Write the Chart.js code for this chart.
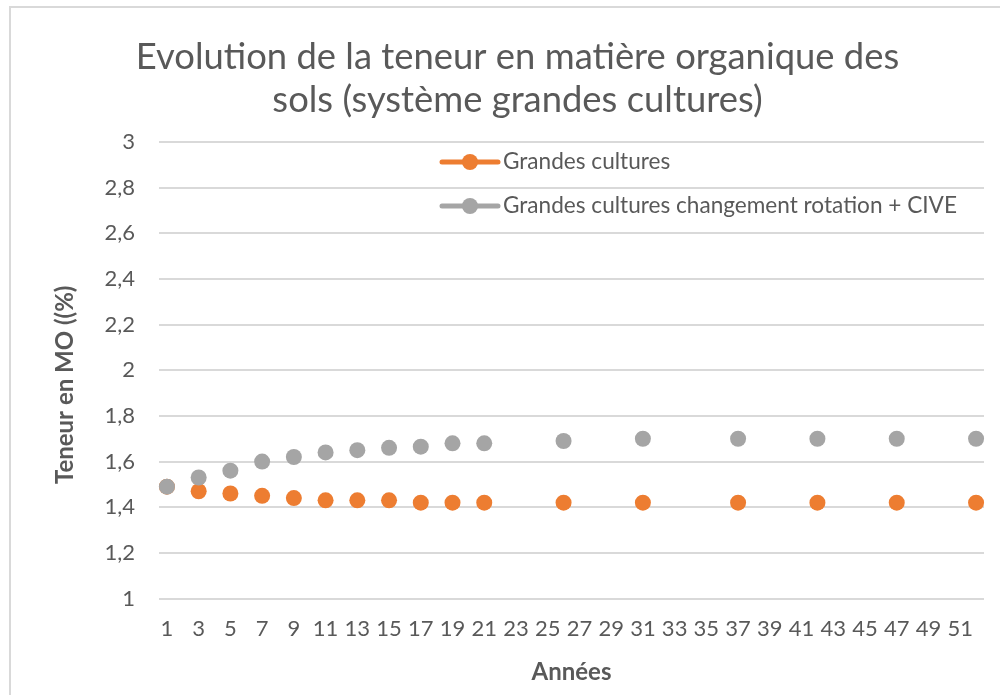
<!DOCTYPE html>
<html>
<head>
<meta charset="utf-8">
<script src="https://cdn.jsdelivr.net/npm/chart.js@4/dist/chart.umd.min.js"></script>
<style>
  html, body { margin: 0; padding: 0; background: #fff; overflow: hidden; }
  #frame { position: absolute; left: 9px; top: 6px; width: 1200px; height: 900px;
           border-left: 2px solid #d9d9d9; border-top: 2px solid #d9d9d9; }
  #wrap { position: absolute; left: 0; top: 0; width: 1000px; height: 695px; }
</style>
</head>
<body>
<div id="frame"></div>
<div id="wrap"><canvas id="c" width="1000" height="695"></canvas></div>
<script>
const categories = Array.from({length: 52}, (_, i) => String(i + 1));
const years = [1, 3, 5, 7, 9, 11, 13, 15, 17, 19, 21, 26, 31, 37, 42, 47, 52];
const grandesCultures = [1.49, 1.47, 1.46, 1.45, 1.44, 1.43, 1.43, 1.43, 1.42, 1.42, 1.42, 1.42, 1.42, 1.42, 1.42, 1.42, 1.42];
const changementRotation = [1.49, 1.53, 1.56, 1.60, 1.62, 1.64, 1.65, 1.66, 1.665, 1.68, 1.68, 1.69, 1.70, 1.70, 1.70, 1.70, 1.70];
const seriesNames = ['Grandes cultures', 'Grandes cultures changement rotation + CIVE'];
const titleLines = ['Evolution de la teneur en matière organique des', 'sols (système grandes cultures)'];

const FONT = 'Lato';
const TXT = '#595959';

const legendPlugin = {
  id: 'insideLegend',
  afterDraw(chart) {
    const ctx = chart.ctx;
    const rows = [162, 206];
    chart.data.datasets.forEach((ds, i) => {
      const y = rows[i];
      ctx.save();
      ctx.strokeStyle = ds.borderColor;
      ctx.lineWidth = 5;
      ctx.lineCap = 'round';
      ctx.beginPath();
      ctx.moveTo(442, y);
      ctx.lineTo(498, y);
      ctx.stroke();
      ctx.fillStyle = ds.backgroundColor;
      ctx.beginPath();
      ctx.arc(470, y, 8, 0, Math.PI * 2);
      ctx.fill();
      ctx.fillStyle = TXT;
      ctx.font = '22.6px ' + FONT;
      ctx.textBaseline = 'middle';
      ctx.textAlign = 'left';
      ctx.fillText(ds.label, 503, y);
      ctx.restore();
    });
  }
};

new Chart(document.getElementById('c'), {
  type: 'line',
  data: {
    labels: categories,
    datasets: [
      {
        label: seriesNames[0],
        data: years.map((yr, i) => ({x: String(yr), y: grandesCultures[i]})),
        borderColor: '#ED7D31',
        backgroundColor: '#ED7D31',
        pointBackgroundColor: '#ED7D31',
        pointBorderColor: '#ED7D31',
        pointRadius: 8,
        pointBorderWidth: 0,
        showLine: false,
        order: 2
      },
      {
        label: seriesNames[1],
        data: years.map((yr, i) => ({x: String(yr), y: changementRotation[i]})),
        borderColor: '#A5A5A5',
        backgroundColor: '#A5A5A5',
        pointBackgroundColor: '#A5A5A5',
        pointBorderColor: '#A5A5A5',
        pointRadius: 8,
        pointBorderWidth: 0,
        showLine: false,
        order: 1
      }
    ]
  },
  options: {
    responsive: false,
    animation: false,
    layout: { padding: { left: 51, right: 16, top: 0, bottom: 0 } },
    plugins: {
      legend: { display: false },
      tooltip: { enabled: false },
      title: {
        display: true,
        text: titleLines,
        color: TXT,
        font: { family: FONT, size: 36.4, weight: 'normal', lineHeight: 43 / 36.4 },
        padding: { top: 35.5, bottom: 20.5 }
      }
    },
    scales: {
      x: {
        type: 'category',
        offset: true,
        grid: { display: false, drawTicks: false },
        border: { display: false },
        ticks: {
          autoSkip: false,
          maxRotation: 0,
          minRotation: 0,
          padding: 17,
          color: TXT,
          font: { family: FONT, size: 22 },
          callback: function(v, i) { return i % 2 === 0 ? this.getLabelForValue(v) : ''; }
        },
        title: {
          display: true,
          text: 'Années',
          color: TXT,
          font: { family: FONT, size: 24, weight: 'bold', lineHeight: 1.2 },
          padding: { top: 0, bottom: 8.6 }
        },
        afterFit(s) { s.height = 96.5; }
      },
      y: {
        min: 1,
        max: 3,
        ticks: {
          stepSize: 0.2,
          padding: 24,
          color: TXT,
          font: { family: FONT, size: 22 },
          callback: v => String(Number(v.toFixed(1))).replace('.', ',')
        },
        grid: { color: '#d9d9d9', lineWidth: 2, drawTicks: false },
        border: { display: false },
        title: {
          display: true,
          text: 'Teneur en MO ((%)     ',
          color: TXT,
          font: { family: FONT, size: 24, weight: 'bold', lineHeight: 1.2 },
          padding: { top: 0, bottom: 0 }
        },
        afterFit(s) { s.width = 108; }
      }
    }
  },
  plugins: [legendPlugin]
});
</script>
</body>
</html>
